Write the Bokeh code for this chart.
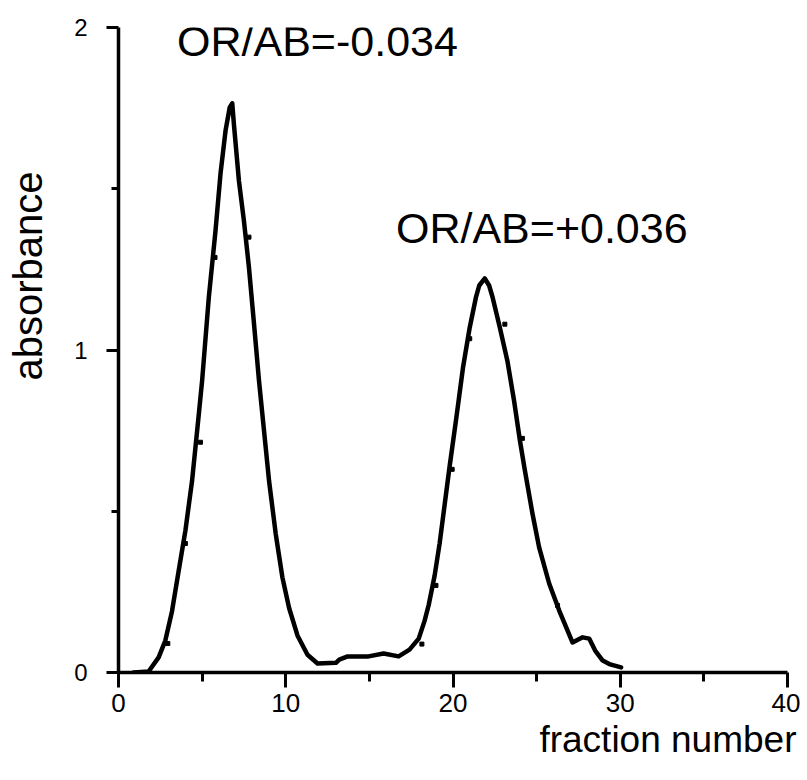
from bokeh.plotting import figure
from bokeh.models import Range1d, FixedTicker, Label, ColumnDataSource, Title
from bokeh.embed import file_html
from bokeh.resources import INLINE

# ---- data ----
fraction = [0.9, 1.8, 2.4, 2.8, 3.2, 3.6, 4.0, 4.4, 4.8, 5.0, 5.4, 5.8, 6.1, 6.4, 6.65, 6.8,
            6.9, 7.2, 7.5, 7.8, 8.1, 8.4, 8.7, 9.0, 9.4, 9.8, 10.2, 10.7, 11.3, 11.9,
            13.0, 13.2, 13.7, 14.95, 15.85, 16.75, 17.4, 17.95, 18.3, 18.55, 18.9, 19.2,
            19.5, 19.8, 20.2, 20.6, 21.0, 21.37, 21.57, 21.9, 22.16, 22.37, 22.8, 23.25, 23.65, 24.0,
            24.3, 24.75, 25.15, 25.75, 26.35, 27.15, 27.75, 28.15, 28.5, 28.95, 29.4, 30.05]
absorbance = [0.0, 0.003, 0.047, 0.099, 0.19, 0.316, 0.44, 0.595, 0.80, 0.905, 1.163, 1.37, 1.547, 1.68, 1.752, 1.765,
              1.70, 1.525, 1.40, 1.256, 1.082, 0.905, 0.75, 0.595, 0.43, 0.295, 0.20, 0.115, 0.055, 0.028,
              0.030, 0.040, 0.05, 0.05, 0.059, 0.05, 0.071, 0.105, 0.16, 0.21, 0.30, 0.40,
              0.52, 0.64, 0.79, 0.946, 1.07, 1.163, 1.20, 1.222, 1.20, 1.163, 1.07, 0.967, 0.843, 0.72,
              0.626, 0.493, 0.388, 0.276, 0.192, 0.093, 0.109, 0.105, 0.068, 0.037, 0.025, 0.016]

dot_fraction = [2.95, 4.0, 4.9, 5.77, 7.8, 18.14, 18.98, 19.95, 21.0, 23.1, 24.15, 26.25]
dot_absorbance = [0.09, 0.40, 0.714, 1.287, 1.35, 0.088, 0.27, 0.63, 1.035, 1.08, 0.726, 0.208]

x_ticks = [0, 10, 20, 30, 40]
x_minor = [5, 15, 25, 35]
y_ticks = [0, 1, 2]
y_minor = [0.5, 1.5]

notes = ["OR/AB=-0.034", "OR/AB=+0.036"]
note_x = [3.5, 16.59]
note_y = [1.957, 1.377]

FONT = "Liberation Sans"

p = figure(width=800, height=775, output_backend="svg", toolbar_location=None,
           x_range=Range1d(0, 40), y_range=Range1d(0, 2),
           min_border_left=118, min_border_right=13, min_border_top=27, min_border_bottom=103)
p.outline_line_color = None
p.xgrid.visible = False
p.ygrid.visible = False
p.background_fill_color = "white"
p.border_fill_color = "white"

for ax, maj, mnr, tout, mout in ((p.xaxis[0], x_ticks, x_minor, 15, 9), (p.yaxis[0], y_ticks, y_minor, 12, 7)):
    ax.ticker = FixedTicker(ticks=maj, minor_ticks=mnr)
    ax.axis_line_width = 3.5
    ax.axis_line_color = "black"
    ax.major_tick_line_width = 3
    ax.minor_tick_line_width = 3
    ax.major_tick_line_color = "black"
    ax.minor_tick_line_color = "black"
    ax.major_tick_in = 0
    ax.minor_tick_in = 0
    ax.major_tick_out = tout
    ax.minor_tick_out = mout
    ax.major_label_text_font = FONT
    ax.major_label_text_color = "black"

p.xaxis.major_label_text_font_size = "26px"
p.xaxis.major_label_standoff = 6
p.yaxis.major_label_text_font_size = "24px"
p.yaxis.major_label_standoff = 19
# blank spacer label widening the left axis panel so the title sits further out
p.yaxis.axis_label = " "
p.yaxis.axis_label_text_font_size = "12px"
p.yaxis.axis_label_standoff = 3

src = ColumnDataSource(dict(x=fraction, y=absorbance))
p.line("x", "y", source=src, line_color="black", line_width=4.5, line_join="round", line_cap="round")

dots = ColumnDataSource(dict(x=dot_fraction, y=dot_absorbance))
p.scatter("x", "y", source=dots, marker="square", size=4, color="black")

for t, xx, yy in zip(notes, note_x, note_y):
    p.add_layout(Label(x=xx, y=yy, text=t, text_font=FONT, text_font_size="43px",
                       text_color="black", text_baseline="middle", text_align="left"))

p.add_layout(Title(text="absorbance", align="left", offset=292, standoff=4,
                   text_font=FONT, text_font_size="40px", text_font_style="normal",
                   text_color="black"), "left")
p.add_layout(Title(text="fraction number", align="right", offset=-9, standoff=4,
                   text_font=FONT, text_font_size="37px", text_font_style="normal",
                   text_color="black"), "below")

open("out.html", "w").write(file_html(p, INLINE))
